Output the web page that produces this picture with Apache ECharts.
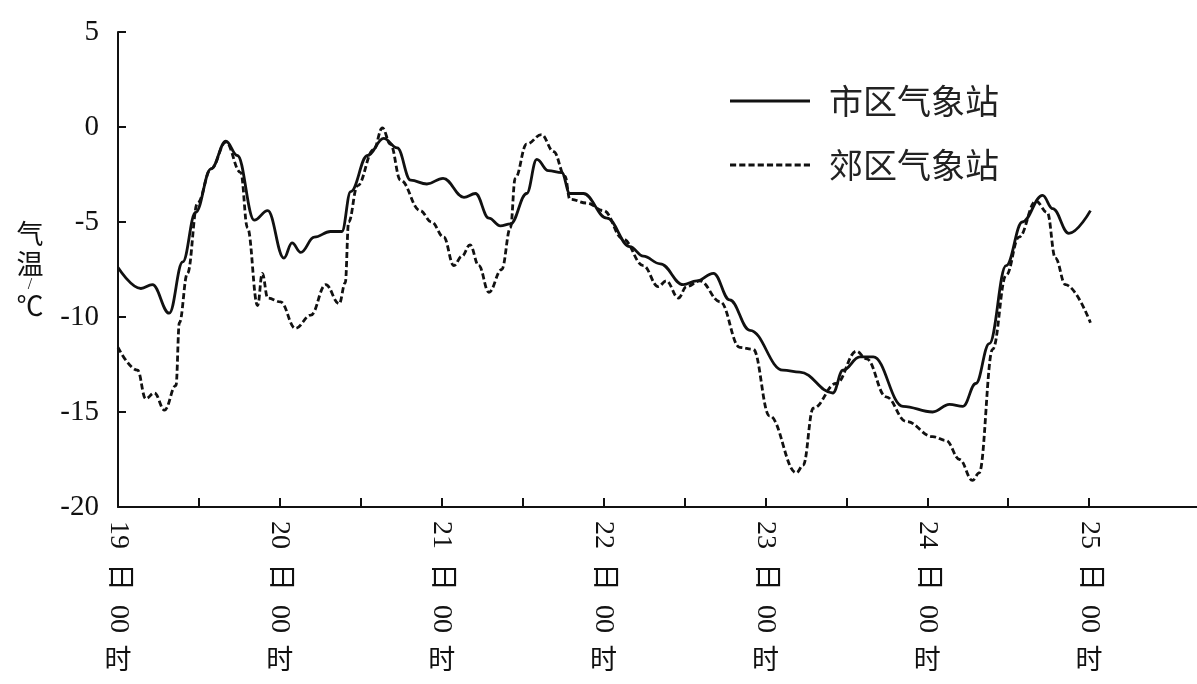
<!DOCTYPE html>
<html>
<head>
<meta charset="utf-8">
<script src="https://cdn.jsdelivr.net/npm/echarts@6/dist/echarts.min.js"></script>
<style>
html,body{margin:0;padding:0;background:#fff;}
#chart{width:1197px;height:684px;}
</style>
</head>
<body>
<div id="chart"></div>
<script>
// ---- data (hours since 19日00时) ----
const seriesNames = ['市区气象站', '郊区气象站'];
const dayLabels = ['19', '20', '21', '22', '23', '24', '25'];
const yTicks = [-20, -15, -10, -5, 0, 5];

const cityHours = [0, 3.4, 5.1, 7.6, 9.6, 11.5, 13.8, 16, 17.7, 20.2, 22.2, 24.6, 25.8, 27.1, 29.1, 31.5, 33.2, 34.5, 37, 39.4, 41.4, 43.4, 45.8, 48.2, 51.3, 53, 55, 56.7, 58.2, 60.6, 62.1, 63.8, 65.8, 67, 69, 72.5, 75.9, 77.9, 80.4, 83.8, 85.8, 88.3, 90.7, 93.7, 98.6, 101.1, 106, 107.5, 110, 112, 116.4, 120.8, 123.3, 125.3, 127.2, 129.2, 131.7, 134.1, 137.1, 138.6, 141, 144.2];
const cityTemp = [-7.4, -8.5, -8.3, -9.8, -7.1, -4.5, -2.2, -0.75, -1.5, -4.9, -4.4, -6.9, -6.1, -6.6, -5.8, -5.5, -5.5, -3.4, -1.5, -0.6, -1.1, -2.8, -3.0, -2.7, -3.7, -3.5, -4.8, -5.2, -5.1, -3.5, -1.7, -2.3, -2.4, -3.5, -3.5, -4.8, -6.3, -6.8, -7.2, -8.3, -8.1, -7.7, -9.1, -10.7, -12.8, -12.9, -14.0, -12.8, -12.1, -12.1, -14.7, -15.0, -14.6, -14.7, -13.5, -11.4, -7.3, -5.0, -3.6, -4.3, -5.6, -4.4];

const suburbHours = [0, 2.9, 4.1, 5.4, 6.9, 8.6, 9.1, 10.3, 11.8, 13.8, 16, 18.2, 19.2, 20.7, 21.4, 22.2, 24.1, 26.3, 28.6, 30.8, 32.8, 33.7, 34.2, 35.5, 37.9, 39.2, 40.4, 41.9, 44.8, 46.5, 48.3, 49.8, 51, 52.2, 53.5, 55, 56.9, 58.2, 58.9, 60.6, 62.8, 64.6, 66.3, 67, 69.5, 72, 74.9, 77.9, 80.1, 81.3, 83.1, 84.3, 86.3, 89.3, 92.2, 94.2, 96.6, 100.6, 101.6, 103.1, 106.5, 109.5, 111, 113.9, 116.9, 120.8, 122.8, 124.8, 126.7, 127.7, 129.7, 131.7, 133.6, 136.1, 137.8, 139, 140.5, 144.2];
const suburbTemp = [-11.6, -12.8, -14.3, -14.0, -14.9, -13.6, -10.3, -7.7, -4.0, -2.2, -0.8, -2.4, -5.3, -9.4, -7.7, -9.0, -9.2, -10.6, -9.9, -8.3, -9.3, -8.2, -5.0, -3.1, -1.2, -0.05, -0.9, -2.8, -4.4, -5.0, -5.8, -7.3, -6.8, -6.2, -7.3, -8.7, -7.5, -5.3, -2.7, -0.9, -0.4, -1.3, -2.6, -3.8, -4.0, -4.4, -5.9, -7.3, -8.4, -8.1, -9.0, -8.4, -8.1, -9.2, -11.6, -11.7, -15.2, -18.2, -17.8, -14.8, -13.5, -11.8, -12.2, -14.2, -15.5, -16.3, -16.5, -17.5, -18.6, -18.2, -11.7, -7.8, -5.8, -3.9, -4.5, -6.9, -8.3, -10.3];

// ---- build ----
const pair = (xs, ys) => xs.map((x, i) => [x, ys[i]]);
const tickHours = [];
for (let h = 0; h <= 144; h += 12) tickHours.push(h);
const labelHours = dayLabels.map((d, i) => i * 24);

const serif = '"Liberation Serif", "DejaVu Serif", "Noto Sans CJK SC", serif';
const cjk = '"Noto Sans CJK SC", sans-serif';
const ink = '#111';

// legend icons: solid bar and a row of short dashes (80 x 3)
let dashPath = '';
for (let x = 0; x < 80; x += 9) dashPath += 'M' + x + ',0 L' + Math.min(x + 6, 80) + ',0 L' + Math.min(x + 6, 80) + ',3 L' + x + ',3 Z ';
const solidIcon = 'path://M0,0 L80,0 L80,3 L0,3 Z';
const dashIcon = 'path://' + dashPath;

const chart = echarts.init(document.getElementById('chart'), null, {renderer: 'canvas'});

const baseX = {
  type: 'value', min: 0, max: 160, interval: 12,
  splitLine: {show: false}
};

chart.setOption({
  backgroundColor: '#fff',
  animation: false,
  grid: {left: 118, right: 0, top: 32, bottom: 177, containLabel: false},
  legend: {
    orient: 'vertical',
    left: 725, top: 79,
    itemWidth: 80, itemHeight: 14, itemGap: 30,
    textStyle: {fontFamily: cjk, fontSize: 34, color: '#222', padding: [0, 0, 0, 14]},
    data: [
      {name: seriesNames[0], icon: solidIcon, itemStyle: {color: ink, borderWidth: 0}},
      {name: seriesNames[1], icon: dashIcon, itemStyle: {color: ink, borderWidth: 0}}
    ]
  },
  xAxis: [
    Object.assign({}, baseX, {
      position: 'bottom',
      axisLine: {show: true, onZero: false, lineStyle: {color: ink, width: 2}},
      axisTick: {show: true, inside: true, length: 9, lineStyle: {color: ink, width: 2}, customValues: tickHours},
      axisLabel: {
        show: true, rotate: -90, margin: 14,
        fontFamily: serif, fontSize: 28, color: ink,
        customValues: labelHours,
        formatter: v => {
          const i = labelHours.indexOf(v);
          return i >= 0 ? dayLabels[i] + '  日  00' : '';
        }
      }
    }),
    Object.assign({}, baseX, {
      position: 'bottom',
      axisLine: {show: false, onZero: false},
      axisTick: {show: false},
      axisLabel: {
        show: true, margin: 138,
        fontFamily: cjk, fontSize: 27, color: ink,
        customValues: labelHours,
        formatter: v => labelHours.indexOf(v) >= 0 ? '时' : ''
      }
    })
  ],
  yAxis: {
    type: 'value', min: -20, max: 5, interval: 5,
    axisLine: {show: true, onZero: false, lineStyle: {color: ink, width: 2}},
    axisTick: {show: true, inside: true, length: 8, lineStyle: {color: ink, width: 2}},
    splitLine: {show: false},
    axisLabel: {
      margin: 19, fontFamily: serif, fontSize: 29, color: ink,
      formatter: v => yTicks.indexOf(v) >= 0 ? String(v) : ''
    },
    name: '{a|气}\n{a|温}\n{s|/}\n{a|℃}',
    nameLocation: 'middle', nameRotate: 0, nameGap: 88,
    nameTextStyle: {
      color: ink, align: 'center',
      rich: {
        a: {fontFamily: cjk, fontSize: 27, lineHeight: 30, color: ink},
        s: {fontFamily: serif, fontSize: 16, lineHeight: 12, color: ink}
      }
    }
  },
  series: [
    {
      name: seriesNames[0], type: 'line', xAxisIndex: 0,
      data: pair(cityHours, cityTemp),
      showSymbol: false, symbol: 'none',
      smooth: 0.4, smoothMonotone: 'x',
      lineStyle: {color: ink, width: 2.8, type: 'solid'},
      itemStyle: {color: ink}
    },
    {
      name: seriesNames[1], type: 'line', xAxisIndex: 0,
      data: pair(suburbHours, suburbTemp),
      showSymbol: false, symbol: 'none',
      smooth: 0.4, smoothMonotone: 'x',
      lineStyle: {color: ink, width: 2.8, type: [6, 3]},
      itemStyle: {color: ink}
    }
  ]
});
</script>
</body>
</html>
